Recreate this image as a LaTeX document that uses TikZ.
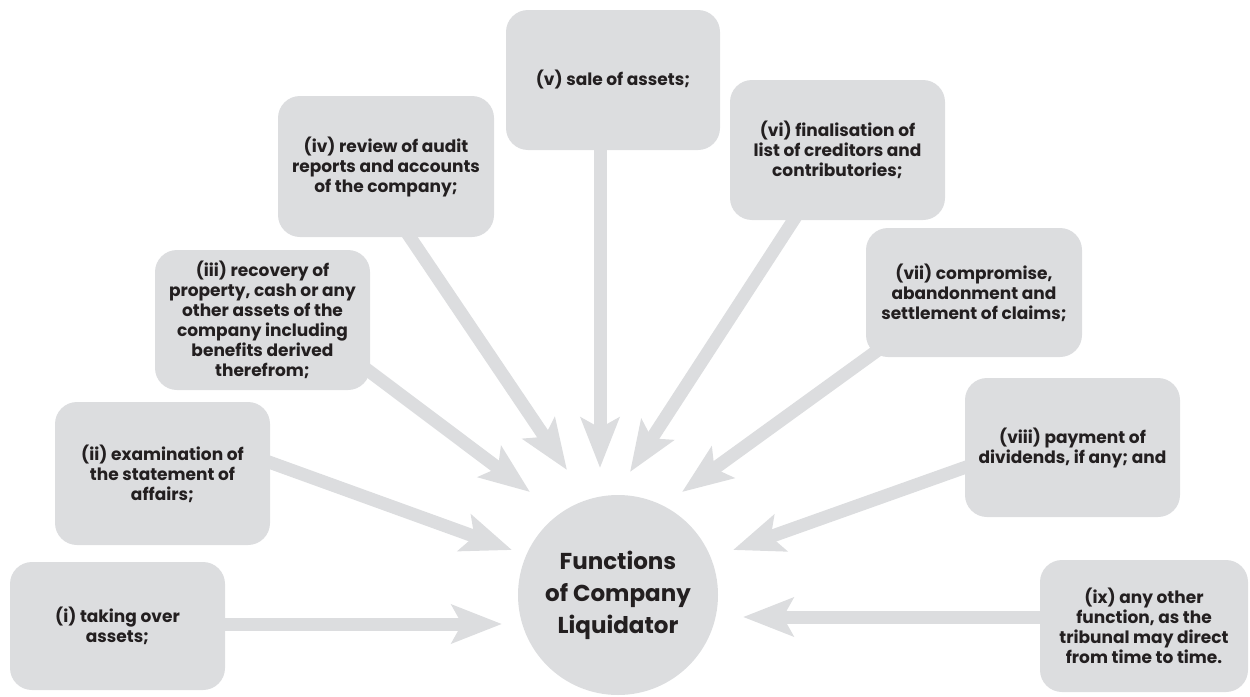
\documentclass[tikz,border=0pt]{standalone}
\usepackage{fontspec}
\setmainfont{Poppins}
\usepackage{tikz}
\usetikzlibrary{arrows.meta,shapes}
\definecolor{boxgray}{HTML}{DCDDDF}
\definecolor{ink}{HTML}{231F20}
\pgfdeclarelayer{background}
\pgfsetlayers{background,main}

\begin{document}
\begin{tikzpicture}[x=1pt,y=-1pt,text=ink,
font=\bfseries\fontsize{17}{20}\selectfont]
\tikzstyle{task}=[fill=boxgray,rounded corners=22pt,align=center,inner sep=0pt,
minimum width=215pt,minimum height=140pt]
\tikzstyle{hub}=[circle,fill=boxgray,minimum size=200pt,inner sep=0pt,align=center,
font=\bfseries\fontsize{23}{32}\selectfont]
\tikzstyle{flow}=[draw=boxgray,line width=13pt,shorten <=-12pt,
-{Stealth[length=50pt,width=38pt,inset=10pt]}]

\useasboundingbox (0,0) rectangle (1250,696);

\node[hub] (L) at (618,595) {Functions\\of Company\\Liquidator};

\node[task,minimum height=128pt] (1) at (117.5,626) {(i) taking over\\assets;};
\node[task,minimum height=143pt] (2) at (162.5,473.5) {(ii) examination of\\the statement of\\affairs;};
\node[task] (3) at (262.5,320) {(iii) recovery of\\property, cash or any\\other assets of the\\company including\\benefits derived\\therefrom;};
\node[task,minimum width=216pt,minimum height=141pt] (4) at (386,166.5) {(iv) review of audit\\reports and accounts\\of the company;};
\node[task,minimum width=214pt] (5) at (613,80) {(v) sale of assets;};
\node[task] (6) at (837.5,150) {(vi) finalisation of\\list of creditors and\\contributories;};
\node[task,minimum width=216pt,minimum height=129pt] (7) at (974,292.5) {(vii) compromise,\\abandonment and\\settlement of claims;};
\node[task,minimum height=139pt] (8) at (1072.5,447.5) {(viii) payment of\\dividends, if any; and};
\node[task,minimum width=208pt,minimum height=132pt] (9) at (1144,626) {(ix) any other\\function, as the\\tribunal may direct\\from time to time.};

% arrow tips around the hub
\coordinate (t1) at (502,624);
\coordinate (t2) at (512,550);
\coordinate (t3) at (530,492);
\coordinate (t4) at (567,470);
\coordinate (t5) at (600,468);
\coordinate (t6) at (630,472);
\coordinate (t7) at (682,492);
\coordinate (t8) at (733,550);
\coordinate (t9) at (743,617);

\begin{pgfonlayer}{background}
\draw[flow] ([yshift=2pt]1.east) -- (t1);
\draw[flow] ([yshift=11pt]2.east) -- (t2);
\draw[flow] ([yshift=-52pt]3.east) -- (t3);
\draw[flow] ([xshift=24pt]4.south) -- (t4);
\draw[flow] ([xshift=-13pt]5.south) -- (t5);
\draw[flow] ([xshift=-44pt]6.south) -- (t6);
\draw[flow] ([xshift=12pt,yshift=7pt]7.south west) -- (t7);
\draw[flow] ([yshift=-20pt]8.west) -- (t8);
\draw[flow] ([yshift=9pt]9.west) -- (t9);
\end{pgfonlayer}
\end{tikzpicture}
\end{document}
